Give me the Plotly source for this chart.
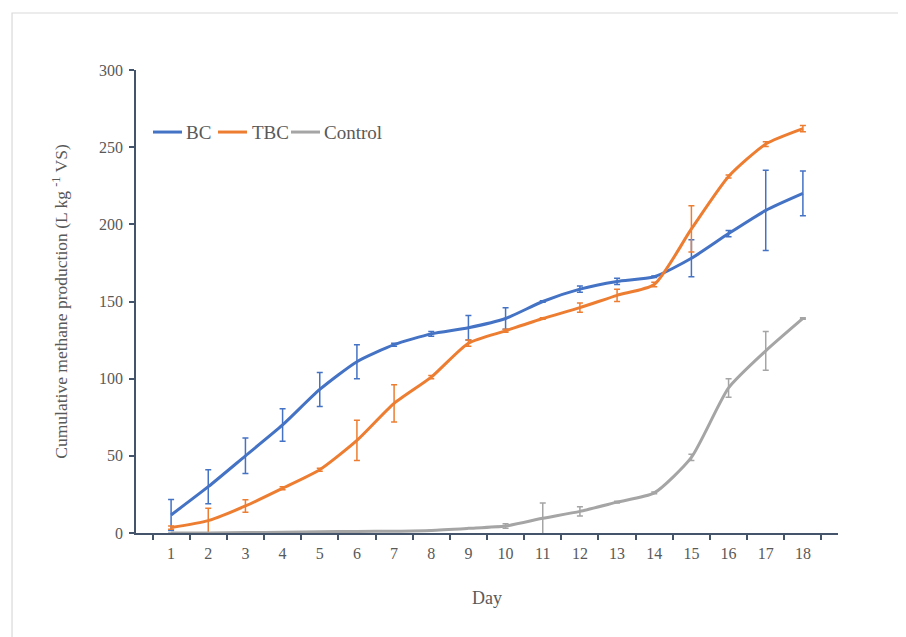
import plotly.graph_objects as go

days = [str(d) for d in range(1, 19)]

bc = [11.7, 30, 50, 70, 93, 111, 122, 129, 133, 139, 150, 158, 163, 166, 178, 194, 209, 220]
bc_err = [10, 11, 11.5, 10.5, 11, 11, 1, 1.5, 8, 7, 0.5, 2, 2, 0.5, 12, 2, 26, 14.5]

tbc = [3.5, 8, 17.5, 29, 41, 60, 84, 101, 123, 131, 139, 146, 154, 161, 197, 231, 252, 262]
tbc_err = [1, 8, 4, 1, 1, 13, 12, 1, 2, 1, 0.5, 3, 4, 1.5, 15, 1, 1.5, 2]

control = [0, 0, 0.3, 0.5, 0.8, 1, 1.2, 1.7, 3, 4.5, 9.5, 14, 20, 26, 49, 94, 118, 139]
control_err = [0, 0, 0, 0, 0, 0, 0, 0, 0, 1.5, 10, 3, 0.5, 0.5, 2, 6, 12.5, 0.5]

y_ticks = [0, 50, 100, 150, 200, 250, 300]

series = [
    ("BC", bc, bc_err, "#4472C4"),
    ("TBC", tbc, tbc_err, "#ED7D31"),
    ("Control", control, control_err, "#A5A5A5"),
]

# legend entry placement (paper coords): line start, line end, text start
legend_pos = [(0.0242, 0.0655, 0.0684), (0.1168, 0.1581, 0.1624), (0.2208, 0.2621, 0.2650)]
legend_y = 0.866

axis_color = "#44546A"
font_family = "Liberation Serif"
text_color = "#595959"

fig = go.Figure()
shapes = [dict(type="rect", xref="paper", yref="paper",
               x0=-0.1766, y0=-0.3, x1=1.15, y1=1.1231,
               line=dict(color="#D9D9D9", width=1.2), fillcolor="rgba(0,0,0,0)", layer="below")]
annotations = []
for (name, vals, errs, color), (lx0, lx1, tx) in zip(series, legend_pos):
    fig.add_trace(go.Scatter(
        x=days, y=vals, name=name, mode="lines",
        line=dict(color=color, width=3, shape="spline", smoothing=0.6),
        error_y=dict(type="data", array=errs, visible=True, color=color,
                     thickness=1.5, width=3),
    ))
    shapes.append(dict(type="line", xref="paper", yref="paper",
                       x0=lx0, x1=lx1, y0=legend_y, y1=legend_y,
                       line=dict(color=color, width=3)))
    annotations.append(dict(text=name, xref="paper", yref="paper", x=tx, y=legend_y,
                            xanchor="left", yanchor="middle", showarrow=False,
                            font=dict(family=font_family, size=19, color=text_color)))

fig.update_layout(
    width=906, height=637,
    margin=dict(l=128, r=76, t=62, b=112),
    paper_bgcolor="white", plot_bgcolor="white",
    font=dict(family=font_family, size=16, color=text_color),
    showlegend=False,
    xaxis=dict(
        type="category", tickson="boundaries", ticks="outside", ticklen=5,
        tickcolor=axis_color, tickwidth=1.5,
        showline=True, linecolor=axis_color, linewidth=1.5,
        showgrid=False, zeroline=False, ticklabelstandoff=5,
        tickfont=dict(family=font_family, size=16, color=text_color),
        title=dict(text="Day", font=dict(family=font_family, size=18, color=text_color), standoff=30),
    ),
    yaxis=dict(
        range=[0, 300], tickmode="array", tickvals=y_ticks,
        ticks="outside", ticklen=5, tickcolor=axis_color, tickwidth=1.5,
        showline=True, linecolor=axis_color, linewidth=1.5,
        showgrid=False, zeroline=False, ticklabelstandoff=3,
        tickfont=dict(family=font_family, size=16, color=text_color),
        title=dict(text="Cumulative methane production (L kg <sup>-1</sup> VS)",
                   font=dict(family=font_family, size=17.5, color=text_color), standoff=27),
    ),
    shapes=shapes,
    annotations=annotations,
)

fig.write_html("out.html")
